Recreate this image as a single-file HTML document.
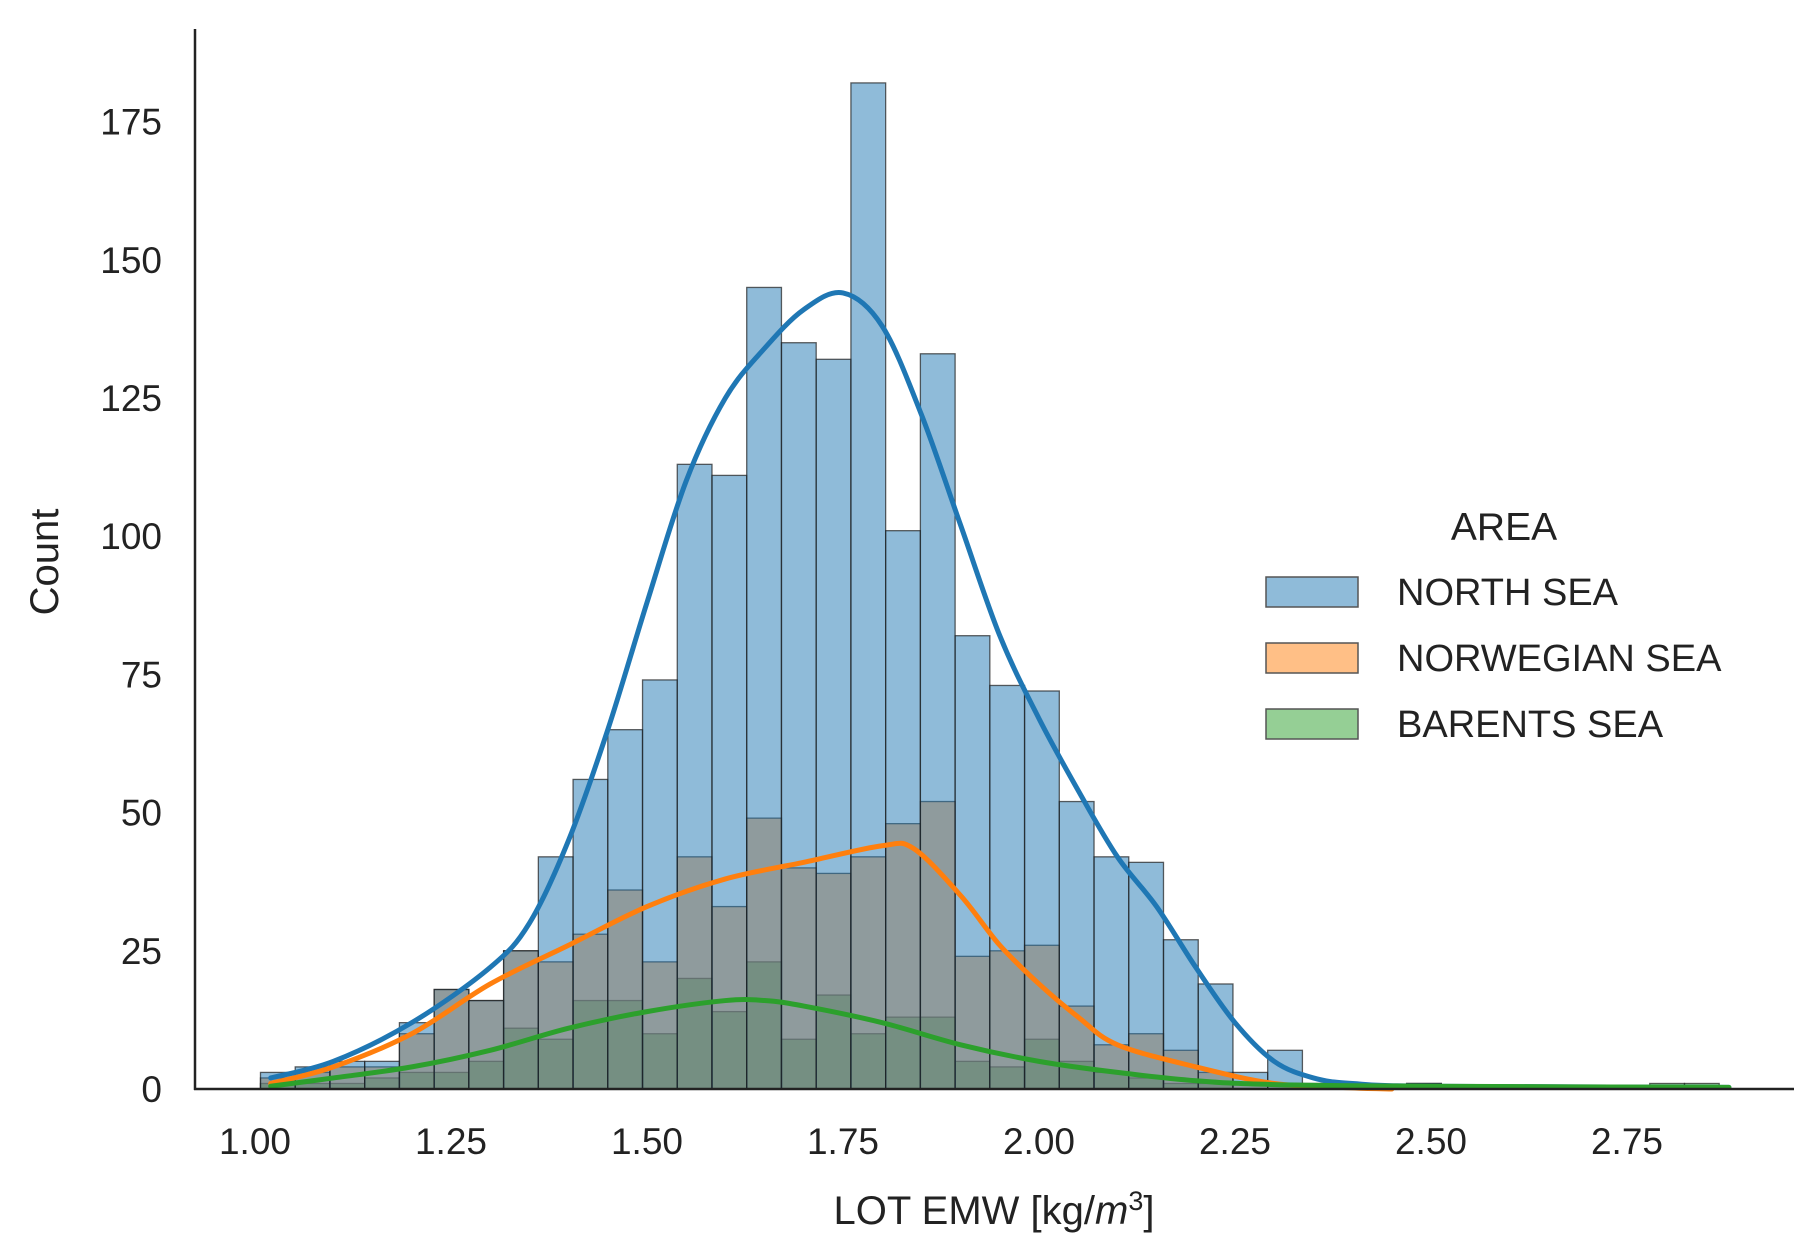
<!DOCTYPE html>
<html><head><meta charset="utf-8"><style>
html,body{margin:0;padding:0;background:#fff;}
svg{display:block;font-family:"Liberation Sans",sans-serif;}
</style></head><body>
<svg id="chart" width="1808" height="1246" viewBox="0 0 1808 1246" xmlns="http://www.w3.org/2000/svg">
<g id="bars"></g>
<g id="kde"></g>
<g id="axes"></g>
<g id="legend">
<text x="1504" y="540" font-size="39" text-anchor="middle" fill="#222">AREA</text>
<rect x="1266" y="577" width="92" height="30" fill="rgba(31,119,180,0.5)" stroke="#555" stroke-width="1.5"/>
<text x="1397" y="605" font-size="38" fill="#222">NORTH SEA</text>
<rect x="1266" y="643" width="92" height="30" fill="rgba(255,127,14,0.5)" stroke="#555" stroke-width="1.5"/>
<text x="1397" y="671" font-size="38" fill="#222">NORWEGIAN SEA</text>
<rect x="1266" y="709" width="92" height="30" fill="rgba(44,160,44,0.5)" stroke="#555" stroke-width="1.5"/>
<text x="1397" y="737" font-size="38" fill="#222">BARENTS SEA</text>
</g>
</svg>
<script>
const binStart = 1.007;
const binWidth = 0.0443;
const northSea = [3,4,5,5,12,18,16,25,42,56,65,74,113,111,145,135,132,182,101,133,82,73,72,52,42,41,27,19,3,7,1,1,0,1,0,0,0,0,0,0,0,0];
const norwegianSea = [2,3,4,4,10,18,16,25,23,28,36,23,42,33,49,40,39,42,48,52,24,25,26,15,8,10,7,3,1,1,0,0,0,0,0,0,0,0,0,0,0,0];
const barentsSea = [1,1,1,2,3,3,5,11,9,16,16,10,20,14,23,9,17,10,13,13,5,4,9,5,3,2,1,1,0,0,0,0,0,1,0,0,0,0,0,0,1,1];
const kdeX = [1.02,1.1,1.2,1.3,1.35,1.4,1.45,1.5,1.55,1.6,1.65,1.7,1.75,1.8,1.85,1.9,1.95,2.0,2.05,2.1,2.15,2.2,2.25,2.3,2.35,2.4,2.5,2.88];
const kdeNorth = [2,5,12,22,30,45,65,88,110,125,134,141,144,138,122,102,82,67,54,42,33,22,12,5,2,1,0.5,0.3];
const kdeNorwX = [1.02,1.1,1.2,1.3,1.4,1.5,1.6,1.7,1.8,1.84,1.9,1.95,2.0,2.05,2.1,2.2,2.3,2.4,2.45];
const kdeNorw = [1,4,10,19,26,33,38,41,44,43.5,35,26,19,13,8,4,1,0.2,0];
const kdeBarX = [1.02,1.1,1.2,1.3,1.4,1.5,1.6,1.65,1.7,1.8,1.9,2.0,2.1,2.2,2.3,2.5,2.88];
const kdeBar = [0.5,2,4,7,11,14,16,16,15,12,8,5,3,1.5,0.8,0.5,0.3];
const xTicks = [1.00,1.25,1.50,1.75,2.00,2.25,2.50,2.75];
const yTicks = [0,25,50,75,100,125,150,175];

const NS="http://www.w3.org/2000/svg";
function X(v){return 255+(v-1.0)/0.25*196;}
function Y(v){return 1089-v/25*138.2;}
function mk(tag,attrs,parent){const e=document.createElementNS(NS,tag);for(const k in attrs)e.setAttribute(k,attrs[k]);parent.appendChild(e);return e;}
const bars=document.getElementById('bars');
function drawBars(data,fill,name){
  data.forEach((v,i)=>{
    if(v<=0)return;
    const x0=X(binStart+i*binWidth),x1=X(binStart+(i+1)*binWidth);
    const r=mk('rect',{x:x0,y:Y(v),width:x1-x0,height:Y(0)-Y(v),fill:fill,stroke:'rgba(30,30,30,0.7)','stroke-width':1.3},bars);
    
    
  });
}
drawBars(barentsSea,'rgba(44,160,44,0.5)','barents-sea');
drawBars(norwegianSea,'rgba(255,127,14,0.5)','norwegian-sea');
drawBars(northSea,'rgba(31,119,180,0.5)','north-sea');

const kde=document.getElementById('kde');
function curve(xs,ys,color,name){
  const p=xs.map((x,i)=>[X(x),Y(ys[i])]);
  let d='M'+p[0][0]+','+p[0][1];
  for(let i=0;i<p.length-1;i++){
    const p0=p[Math.max(0,i-1)],p1=p[i],p2=p[i+1],p3=p[Math.min(p.length-1,i+2)];
    const c1=[p1[0]+(p2[0]-p0[0])/6,p1[1]+(p2[1]-p0[1])/6];
    const c2=[p2[0]-(p3[0]-p1[0])/6,p2[1]-(p3[1]-p1[1])/6];
    d+=' C'+c1+' '+c2+' '+p2;
  }
  const e=mk('path',{d:d,fill:'none',stroke:color,'stroke-width':5,'stroke-linecap':'round'},kde);
  
  
}
curve(kdeX,kdeNorth,'#1f77b4','kde-north-sea');
curve(kdeNorwX,kdeNorw,'#ff7f0e','kde-norwegian-sea');
curve(kdeBarX,kdeBar,'#2ca02c','kde-barents-sea');

const axes=document.getElementById('axes');
const ya=mk('line',{x1:195,y1:29,x2:195,y2:1090,stroke:'#222','stroke-width':2.5},axes);


const xa=mk('line',{x1:194,y1:1089,x2:1794,y2:1089,stroke:'#222','stroke-width':2.5},axes);


xTicks.forEach(t=>{
  const e=mk('text',{x:X(t),y:1154,'font-size':37,'text-anchor':'middle',fill:'#222'},axes);
  e.textContent=t.toFixed(2);
  
  
});
yTicks.forEach(t=>{
  const e=mk('text',{x:162,y:Y(t)+13,'font-size':37,'text-anchor':'end',fill:'#222'},axes);
  e.textContent=t;
  
  
});
const xt=mk('text',{x:994,y:1224,'font-size':40,'text-anchor':'middle',fill:'#222'},axes);
xt.innerHTML='LOT EMW [kg/<tspan font-style="italic">m</tspan><tspan dy="-14" font-size="27">3</tspan><tspan dy="14">]</tspan>';


const yt=mk('text',{x:0,y:0,'font-size':40,'text-anchor':'middle',fill:'#222',transform:'translate(58,562) rotate(-90)'},axes);
yt.textContent='Count';


</script>
</body></html>
